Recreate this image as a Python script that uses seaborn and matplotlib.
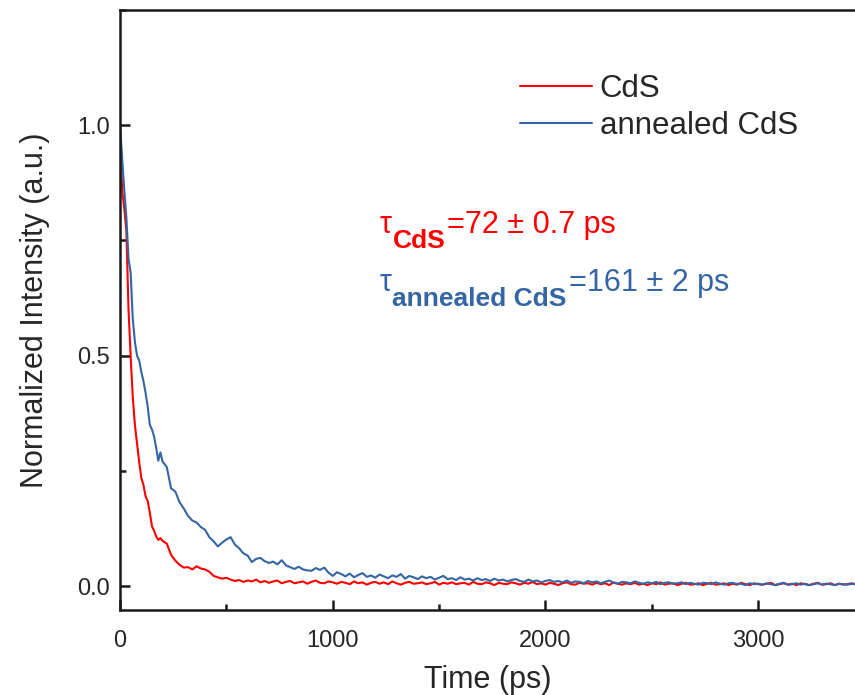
import matplotlib
matplotlib.use("Agg")
import matplotlib.pyplot as plt
from matplotlib.ticker import MultipleLocator, AutoMinorLocator, FormatStrFormatter
import numpy as np
import pandas as pd
import seaborn as sns

# Sampling grid of the transient PL decay (ps)
time_ps = list(range(0, 200, 10)) + list(range(200, 3461, 20))

# CdS normalized intensity
cds = [
    1.0, 0.86, 0.82, 0.77, 0.60, 0.50, 0.41, 0.35, 0.31, 0.27,
    0.235, 0.22, 0.195, 0.185, 0.16, 0.13, 0.12, 0.108, 0.10, 0.104,
    0.098, 0.092, 0.068, 0.055, 0.046, 0.040, 0.041, 0.036, 0.043, 0.038,
    0.036, 0.031, 0.022, 0.019, 0.016, 0.018, 0.014, 0.011, 0.013, 0.009,
    0.012, 0.010, 0.014, 0.008, 0.011, 0.007, 0.010, 0.012, 0.006, 0.009,
    0.011, 0.006, 0.008, 0.010, 0.005, 0.009, 0.012, 0.007, 0.006, 0.010,
    0.008,
    0.005, 0.009, 0.007, 0.004, 0.010, 0.006, 0.008, 0.003, 0.007, 0.009,
    0.005, 0.008, 0.004, 0.010, 0.006, 0.003, 0.007, 0.009, 0.005, 0.006,
    0.008, 0.004, 0.006, 0.009, 0.003, 0.007, 0.005, 0.008, 0.004, 0.006,
    0.007, 0.003, 0.009, 0.005, 0.004, 0.008, 0.006, 0.002, 0.007, 0.005,
    0.004, 0.008, 0.006, 0.003, 0.007, 0.005, 0.009, 0.004, 0.006, 0.003,
    0.007, 0.005, 0.002, 0.006, 0.008, 0.004, 0.003, 0.007, 0.005, 0.006,
    0.003, 0.007, 0.004, 0.006, 0.002, 0.008, 0.005, 0.003, 0.006, 0.004,
    0.007, 0.003, 0.005, 0.002, 0.006, 0.004, 0.008, 0.003, 0.005, 0.006,
    0.002, 0.005, 0.007, 0.003, 0.004, 0.006, 0.002, 0.005, 0.007, 0.003,
    0.004, 0.006, 0.002, 0.005, 0.003, 0.007, 0.004, 0.002, 0.006, 0.004,
    0.003, 0.005, 0.007, 0.002, 0.004, 0.006, 0.003, 0.005, 0.002, 0.006,
    0.004, 0.002, 0.005, 0.007, 0.003, 0.004, 0.006, 0.002, 0.005, 0.003,
    0.004, 0.006, 0.003,
]

# Annealed CdS normalized intensity
annealed_cds = [
    1.0, 0.93, 0.86, 0.80, 0.71, 0.68, 0.58, 0.53, 0.50, 0.49,
    0.465, 0.445, 0.42, 0.39, 0.35, 0.34, 0.325, 0.30, 0.272, 0.29,
    0.27, 0.258, 0.212, 0.205, 0.182, 0.168, 0.152, 0.142, 0.138, 0.128,
    0.122, 0.106, 0.097, 0.086, 0.094, 0.101, 0.106, 0.090, 0.082, 0.071,
    0.066, 0.052, 0.059, 0.061, 0.054, 0.050, 0.053, 0.047, 0.056, 0.045,
    0.041, 0.037, 0.042, 0.036, 0.034, 0.033, 0.039, 0.035, 0.040, 0.029,
    0.022,
    0.030, 0.026, 0.021, 0.027, 0.019, 0.024, 0.028, 0.020, 0.023, 0.018,
    0.025, 0.021, 0.017, 0.023, 0.020, 0.026, 0.016, 0.022, 0.019, 0.015,
    0.021, 0.017, 0.020, 0.014, 0.018, 0.022, 0.015, 0.017, 0.013, 0.019,
    0.014, 0.016, 0.012, 0.017, 0.013, 0.015, 0.011, 0.016, 0.012, 0.014,
    0.010, 0.013, 0.015, 0.011, 0.009, 0.014, 0.010, 0.012, 0.008, 0.011,
    0.013, 0.009, 0.011, 0.008, 0.012, 0.007, 0.010, 0.009, 0.006, 0.011,
    0.008, 0.010, 0.006, 0.009, 0.012, 0.007, 0.005, 0.009, 0.008, 0.006,
    0.010, 0.007, 0.005, 0.008, 0.006, 0.009, 0.004, 0.007, 0.008, 0.005,
    0.006, 0.008, 0.004, 0.007, 0.005, 0.003, 0.007, 0.006, 0.004, 0.008,
    0.005, 0.003, 0.006, 0.007, 0.004, 0.005, 0.002, 0.006, 0.004, 0.005,
    0.003, 0.006, 0.004, 0.002, 0.005, 0.007, 0.003, 0.004, 0.006, 0.003,
    0.005, 0.002, 0.004, 0.006, 0.003, 0.005, 0.004, 0.002, 0.005, 0.004,
    0.003, 0.005, 0.004,
]

series_labels = ["CdS", "annealed CdS"]
series_colors = ["#ff0000", "#3465a4"]
# Fitted lifetimes: (subscript, value text)
lifetime_subscripts = ["CdS", "annealed CdS"]
lifetime_values = ["=72 ± 0.7 ps", "=161 ± 2 ps"]

sns.set_theme(style="ticks")
plt.rcParams["font.family"] = ["Liberation Sans", "DejaVu Sans"]

df = pd.DataFrame({
    "Time": time_ps * 2,
    "Intensity": cds + annealed_cds,
    "Sample": [series_labels[0]] * len(time_ps) + [series_labels[1]] * len(time_ps),
})

fig = plt.figure(figsize=(8.55, 6.95), dpi=100)
ax = fig.add_axes([120 / 855, 1 - 610 / 695, 1 - 120 / 855, 600 / 695])

sns.lineplot(data=df, x="Time", y="Intensity", hue="Sample",
             palette=dict(zip(series_labels, series_colors)),
             estimator=None, linewidth=1.5, ax=ax)

ax.set_xlim(0, 3455)
ax.set_ylim(-0.052, 1.25)
ax.xaxis.set_major_locator(MultipleLocator(1000))
ax.xaxis.set_minor_locator(AutoMinorLocator(2))
ax.yaxis.set_major_locator(MultipleLocator(0.5))
ax.yaxis.set_minor_locator(AutoMinorLocator(2))
ax.yaxis.set_major_formatter(FormatStrFormatter("%.1f"))

for side in ["left", "top", "bottom"]:
    ax.spines[side].set_linewidth(1.8)
    ax.spines[side].set_color("#1a1a1a")
ax.spines["right"].set_visible(False)
ax.tick_params(which="both", direction="in", width=1.8, color="#1a1a1a",
               labelsize=17, top=False, right=False)
ax.tick_params(which="major", length=7)
ax.tick_params(which="minor", length=4)
ax.tick_params(axis="x", which="major", pad=14.5)
ax.tick_params(axis="y", which="major", pad=7.5)

ax.set_xlabel("Time (ps)", fontsize=22, labelpad=9)
ax.set_ylabel("Normalized Intensity (a.u.)", fontsize=22, labelpad=19)

ax.legend(loc="upper left", bbox_to_anchor=(0.544, 0.894), frameon=False,
          fontsize=22.5, handlelength=2.3, handletextpad=0.26,
          labelspacing=0.23, borderpad=0, borderaxespad=0)

# Lifetime annotations: tau, bold subscript, then the value on the main baseline
for i, (y_base, color) in enumerate(zip([0.628, 0.532], series_colors)):
    tau = ax.text(0.3537, y_base, "τ", transform=ax.transAxes,
                  color=color, fontsize=22, va="baseline", ha="left")
    sub = ax.annotate(lifetime_subscripts[i], xy=(1, 0), xycoords=tau,
                      xytext=(0.3, -9.5), textcoords="offset points",
                      color=color, fontsize=19, fontweight="bold",
                      va="bottom", ha="left")
    ax.annotate(lifetime_values[i], xy=(1, 0), xycoords=(sub, tau),
                xytext=(1.5, 0), textcoords="offset points",
                color=color, fontsize=22, va="bottom", ha="left")

fig.savefig("out.png", dpi=100)
